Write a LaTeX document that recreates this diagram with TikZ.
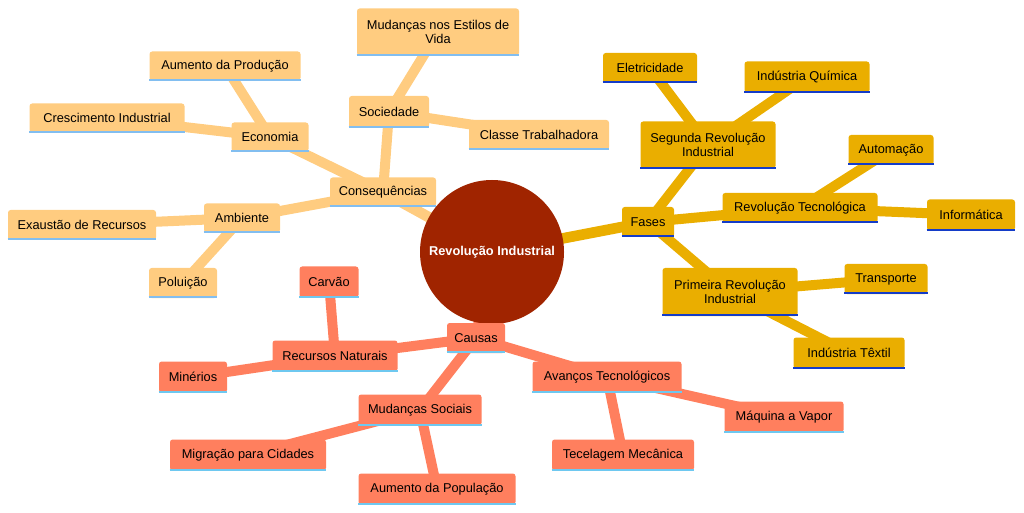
\documentclass[tikz,border=0pt]{standalone}
\usepackage{fontspec}
\setmainfont{Liberation Sans}
\definecolor{cA}{RGB}{255,204,128}
\definecolor{cB}{RGB}{234,174,0}
\definecolor{cC}{RGB}{255,127,94}
\definecolor{cR}{RGB}{160,36,0}
\definecolor{lA}{RGB}{130,190,240}
\definecolor{lB}{RGB}{20,60,200}
\definecolor{lC}{RGB}{110,200,240}
\tikzset{
 bx/.style={rounded corners=2pt,inner sep=1pt,align=center,font=\fontsize{9.6}{11}\selectfont,text=black},
 eA/.style={cA,line width=7.5pt},
 eB/.style={cB,line width=7.5pt},
 eC/.style={cC,line width=7.5pt},
}
\newcommand{\nd}[8]{\node[bx,fill=#6,minimum width=#4*0.75pt,minimum height=#5*0.75pt] (#1) at (#2,#3) {#8};
 \draw[#7,line width=1.5pt] ([yshift=0.6pt]#1.south west)--([yshift=0.6pt]#1.south east);}
\begin{document}
\begin{tikzpicture}[x=0.75pt,y=-0.75pt]
\useasboundingbox (0,0) rectangle (1024,513);
% edges
\draw[eA,line width=8pt] (492,252)--(383,192);
\draw[eA] (383,192)--(270,137) (270,137)--(225,66) (270,137)--(107,118);
\draw[eA] (383,192)--(389,112) (389,112)--(438,32) (389,112)--(539,135);
\draw[eA] (383,192)--(242,218) (242,218)--(82,225) (242,218)--(183,283);
\draw[eB,line width=8pt] (492,252)--(648,222);
\draw[eB] (648,222)--(708,145) (708,145)--(650,68) (708,145)--(807,77);
\draw[eB] (648,222)--(800,208) (800,208)--(891,150) (800,208)--(971,215);
\draw[eB] (648,222)--(730,292) (730,292)--(886,279) (730,292)--(849,353);
\draw[eC,line width=8pt] (492,252)--(476,338);
\draw[eC] (476,338)--(335,356) (335,356)--(329,282) (335,356)--(193,377);
\draw[eC] (476,338)--(420,410) (420,410)--(248,455) (420,410)--(437,489);
\draw[eC] (476,338)--(607,377) (607,377)--(784,417) (607,377)--(623,455);
% center
\node[circle,fill=cR,minimum size=108pt,text=white,font=\fontsize{9.6}{11}\selectfont\bfseries] (root) at (492,252) {Revolução Industrial};
% nodes
\nd{cons}{383}{192}{106}{29}{cA}{lA}{Consequências}
\nd{eco}{270}{137}{77}{29}{cA}{lA}{Economia}
\nd{aup}{225}{66}{151}{29}{cA}{lA}{Aumento da Produção}
\nd{cri}{107}{118}{155}{29}{cA}{lA}{Crescimento Industrial}
\nd{soc}{389}{112}{80}{32}{cA}{lA}{Sociedade}
\nd{mud}{438}{32}{162}{47}{cA}{lA}{Mudanças nos Estilos de\\Vida}
\nd{cla}{539}{135}{140}{30}{cA}{lA}{Classe Trabalhadora}
\nd{amb}{242}{218}{76}{29}{cA}{lA}{Ambiente}
\nd{exa}{82}{225}{148}{30}{cA}{lA}{Exaustão de Recursos}
\nd{pol}{183}{283}{68}{30}{cA}{lA}{Poluição}
\nd{fas}{648}{222}{52}{30}{cB}{lB}{Fases}
\nd{seg}{708}{145}{135}{47}{cB}{lB}{Segunda Revolução\\Industrial}
\nd{ele}{650}{68}{94}{30}{cB}{lB}{Eletricidade}
\nd{qui}{807}{77}{125}{31}{cB}{lB}{Indústria Química}
\nd{tec}{800}{208}{155}{30}{cB}{lB}{Revolução Tecnológica}
\nd{aut}{891}{150}{85}{30}{cB}{lB}{Automação}
\nd{inf}{971}{215}{88}{31}{cB}{lB}{Informática}
\nd{pri}{730}{292}{135}{48}{cB}{lB}{Primeira Revolução\\Industrial}
\nd{tra}{886}{279}{83}{30}{cB}{lB}{Transporte}
\nd{tex}{849}{353}{111}{31}{cB}{lB}{Indústria Têxtil}
\nd{cau}{476}{338}{58}{30}{cC}{lC}{Causas}
\nd{rec}{335}{356}{125}{31}{cC}{lC}{Recursos Naturais}
\nd{car}{329}{282}{59}{31}{cC}{lC}{Carvão}
\nd{min}{193}{377}{68}{31}{cC}{lC}{Minérios}
\nd{ms}{420}{410}{123}{31}{cC}{lC}{Mudanças Sociais}
\nd{mig}{248}{455}{156}{31}{cC}{lC}{Migração para Cidades}
\nd{apo}{437}{489}{157}{31}{cC}{lC}{Aumento da População}
\nd{ava}{607}{377}{149}{31}{cC}{lC}{Avanços Tecnológicos}
\nd{maq}{784}{417}{119}{31}{cC}{lC}{Máquina a Vapor}
\nd{tcm}{623}{455}{142}{31}{cC}{lC}{Tecelagem Mecânica}
\end{tikzpicture}
\end{document}
